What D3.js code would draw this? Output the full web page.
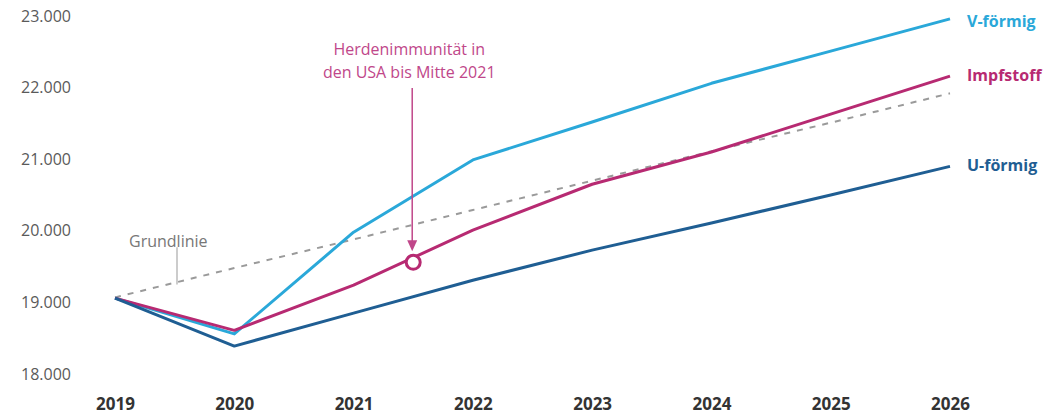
<!DOCTYPE html>
<html>
<head>
<meta charset="utf-8">
<script src="https://cdn.jsdelivr.net/npm/d3@7"></script>
<style>
  body { margin: 0; background: #fff; }
  svg { display: block; font-family: "Open Sans", Lato, sans-serif; }
</style>
</head>
<body>
<div id="chart"></div>
<script>
const width = 1045, height = 414;

// data
const years = [2019, 2020, 2021, 2022, 2023, 2024, 2025, 2026];
const vShape = [19060, 18560, 19980, 20990, 21520, 22060, 22510, 22960];
const vaccine = [19060, 18610, 19240, 20010, 20650, 21100, 21630, 22160];
const uShape = [19060, 18390, 18850, 19310, 19730, 20110, 20500, 20900];
const baseline = [19070, 19480, 19880, 20290, 20700, 21110, 21510, 21920];
const yTicks = [18000, 19000, 20000, 21000, 22000, 23000];
const marker = { year: 2021.5, value: 19560 };

const series = [
  { name: "V-förmig", values: vShape, color: "#2aa8d9", labelY: 22920 },
  { name: "Impfstoff", values: vaccine, color: "#b72a72", labelY: 22170 },
  { name: "U-förmig", values: uShape, color: "#1f5e93", labelY: 20920 }
];

const x = d3.scaleLinear().domain([2019, 2026]).range([115, 950]);
const y = d3.scaleLinear().domain([18000, 23000]).range([374, 16]);

const svg = d3.select("#chart").append("svg")
  .attr("width", width).attr("height", height)
  .attr("viewBox", [0, 0, width, height]);

// y axis labels
svg.append("g")
  .attr("transform", "translate(71,0)")
  .call(d3.axisLeft(y).tickValues(yTicks).tickSize(0).tickPadding(0)
    .tickFormat(d => d3.format(",")(d).replace(",", ".")))
  .call(g => g.select(".domain").remove())
  .call(g => g.selectAll("text").attr("fill", "#5a5a5a").attr("font-size", 16)
    .attr("font-family", "'Open Sans', sans-serif"));

// x axis labels
svg.append("g")
  .attr("transform", "translate(0,398)")
  .call(d3.axisBottom(x).tickValues(years).tickSize(0).tickPadding(0)
    .tickFormat(d3.format("d")))
  .call(g => g.select(".domain").remove())
  .call(g => g.selectAll("text").attr("fill", "#333").attr("font-size", 17)
    .attr("font-weight", "bold").attr("font-family", "'Open Sans', sans-serif"));

const line = d3.line().x((d, i) => x(years[i])).y(d => y(d));

// baseline dashed
svg.append("path")
  .attr("d", line(baseline))
  .attr("fill", "none")
  .attr("stroke", "#9a9a9a")
  .attr("stroke-width", 2)
  .attr("stroke-dasharray", "6,7");

svg.append("text")
  .attr("x", 129).attr("y", 247)
  .attr("fill", "#777").attr("font-size", 16)
  .text("Grundlinie");
svg.append("line")
  .attr("x1", x(2019) + 62).attr("x2", x(2019) + 62)
  .attr("y1", y(19770)).attr("y2", y(19250))
  .attr("stroke", "#aaa").attr("stroke-width", 1.2);

// scenario lines
svg.selectAll(".scen")
  .data(series)
  .join("path")
  .attr("class", "scen")
  .attr("d", d => line(d.values))
  .attr("fill", "none")
  .attr("stroke", d => d.color)
  .attr("stroke-width", 3)
  .attr("stroke-linejoin", "round");

svg.selectAll(".lab")
  .data(series)
  .join("text")
  .attr("class", "lab")
  .attr("x", x(2026) + 17)
  .attr("y", d => y(d.labelY))
  .attr("dy", "0.35em")
  .attr("fill", d => d.color)
  .attr("font-size", 16)
  .attr("font-weight", "bold")
  .text(d => d.name);

// annotation
const annX = x(marker.year) - 4;
const ann = svg.append("text")
  .attr("x", annX).attr("y", 55)
  .attr("text-anchor", "middle")
  .attr("fill", "#c0478a")
  .attr("font-size", 16);
ann.append("tspan").attr("x", annX).text("Herdenimmunität in");
ann.append("tspan").attr("x", annX).attr("dy", 23).text("den USA bis Mitte 2021");

svg.append("line")
  .attr("x1", x(marker.year) - 1).attr("x2", x(marker.year) - 1)
  .attr("y1", 88).attr("y2", y(marker.value) - 14)
  .attr("stroke", "#c0478a").attr("stroke-width", 1.5);
svg.append("path")
  .attr("d", `M${x(marker.year) - 6},${y(marker.value) - 22} L${x(marker.year) + 4},${y(marker.value) - 22} L${x(marker.year) - 1},${y(marker.value) - 11} Z`)
  .attr("fill", "#c0478a");

svg.append("circle")
  .attr("cx", x(marker.year)).attr("cy", y(marker.value))
  .attr("r", 7)
  .attr("fill", "#fff")
  .attr("stroke", "#b72a72")
  .attr("stroke-width", 3);
</script>
</body>
</html>
